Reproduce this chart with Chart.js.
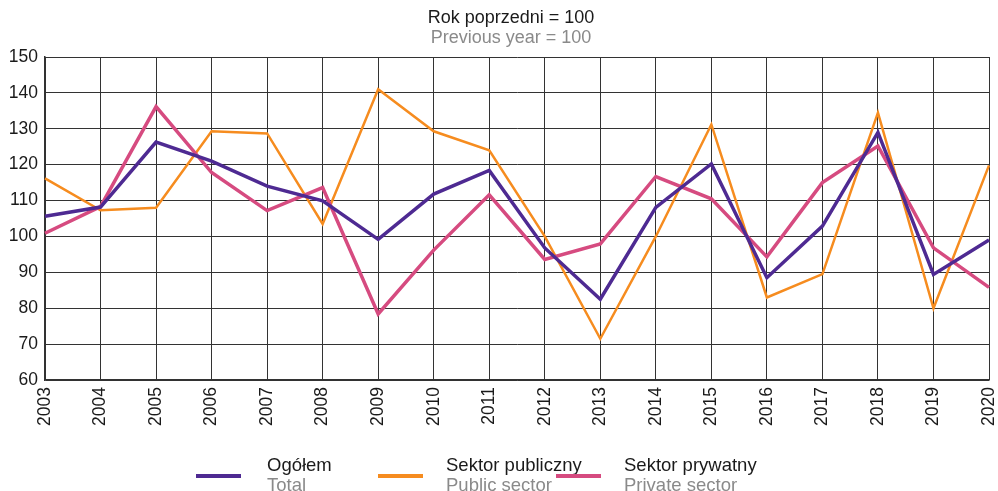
<!DOCTYPE html>
<html>
<head>
<meta charset="utf-8">
<script src="https://cdn.jsdelivr.net/npm/chart.js@4.4.1/dist/chart.umd.min.js"></script>
<style>
  html, body { margin: 0; padding: 0; background: #fff; }
  #wrap { position: relative; width: 998px; height: 491px; font-family: "Liberation Sans", Arial, sans-serif; }
  #c { position: absolute; left: 0; top: 0; }
  .t1 { position: absolute; top: 7px; left: 0; width: 1022px; text-align: center; font-size: 18px; color: #1a1a1a; line-height: 20px; }
  .t2 { position: absolute; top: 27px; left: 0; width: 1022px; text-align: center; font-size: 18px; color: #8a8a8a; line-height: 20px; }
  .leg { position: absolute; top: 455px; }
  .leg .sw { position: absolute; top: 19px; height: 4px; width: 45px; }
  .leg .a { position: absolute; white-space: nowrap; font-size: 18.5px; line-height: 20px; color: #1a1a1a; top: 0; }
  .leg .b { position: absolute; white-space: nowrap; font-size: 18.5px; line-height: 20px; color: #8a8a8a; top: 20px; }
</style>
</head>
<body>
<div id="wrap">
  <canvas id="c" width="998" height="491"></canvas>
  <div class="t1">Rok poprzedni = 100</div>
  <div class="t2">Previous year = 100</div>
  <div id="legend"></div>
</div>
<script>
const years = ["2003","2004","2005","2006","2007","2008","2009","2010","2011","2012","2013","2014","2015","2016","2017","2018","2019","2020"];
const total   = [105.6,108.2,126.3,121.0,114.0,109.9,99.2,111.8,118.4,96.8,82.5,108.1,120.2,88.5,102.9,129.0,89.4,99.0];
const publicS = [116.2,107.3,108.0,129.3,128.7,103.5,141.0,129.3,124.0,100.0,71.5,100.0,131.2,83.0,89.5,134.5,80.0,119.8];
const privateS= [100.9,108.3,136.2,117.8,107.2,113.6,78.4,96.2,111.6,93.6,97.9,116.7,110.5,94.3,115.0,125.2,96.8,85.8];
const seriesPL = ["Ogółem","Sektor publiczny","Sektor prywatny"];
const seriesEN = ["Total","Public sector","Private sector"];
const yTicks = [60,70,80,90,100,110,120,130,140,150];

const colors = ["#4e2a92","#f68c1f","#d64b80"];
const widths = [3.5,2.5,3.5];
const legendX = [196,378,556];

const font = "'Liberation Sans', Arial, sans-serif";
const lg = document.getElementById('legend');
seriesPL.forEach((n,i)=>{
  const d = document.createElement('div');
  d.className='leg'; d.style.left = legendX[i]+'px';
  d.innerHTML = '<div class="sw" style="left:0;background:'+colors[i]+'"></div>'+
    '<div class="a" style="left:'+(i===0?71:68)+'px">'+n+'</div>'+
    '<div class="b" style="left:'+(i===0?71:68)+'px">'+seriesEN[i]+'</div>';
  lg.appendChild(d);
});

new Chart(document.getElementById('c'), {
  type: 'line',
  data: {
    labels: years,
    datasets: [
      { label: seriesPL[0], data: total, borderColor: colors[0], borderWidth: widths[0], order: 0 },
      { label: seriesPL[1], data: publicS, borderColor: colors[1], borderWidth: widths[1], order: 2 },
      { label: seriesPL[2], data: privateS, borderColor: colors[2], borderWidth: widths[2], order: 1 }
    ].map(d => Object.assign(d, { pointRadius: 0, fill: false, tension: 0, borderJoinStyle: 'miter', backgroundColor: d.borderColor }))
  },
  options: {
    responsive: false,
    animation: false,
    layout: { padding: { top: 57, bottom: 51, left: 0, right: 9 } },
    plugins: { legend: { display: false }, tooltip: { enabled: false }, title: { display: false } },
    scales: {
      x: {
        offset: false,
        grid: { color: '#333', lineWidth: 1, tickLength: 0, drawTicks: false },
        border: { color: '#333', width: 1.5 },
        ticks: { color: '#1a1a1a', font: { family: font, size: 17.5 }, minRotation: 90, maxRotation: 90, padding: 7, autoSkip: false },
        afterFit: s => { s.height = 60; s.paddingLeft = 0; s.paddingRight = 0; }
      },
      y: {
        min: 60, max: 150,
        afterBuildTicks: s => { s.ticks = yTicks.map(v => ({ value: v })); },
        grid: { color: '#333', lineWidth: 1, drawTicks: false },
        border: { color: '#333', width: 1.5 },
        ticks: { color: '#1a1a1a', font: { family: font, size: 17.5 }, padding: 7 },
        afterFit: s => { s.width = 45; s.paddingTop = 0; s.paddingBottom = 0; }
      }
    }
  }
});
</script>
</body>
</html>
